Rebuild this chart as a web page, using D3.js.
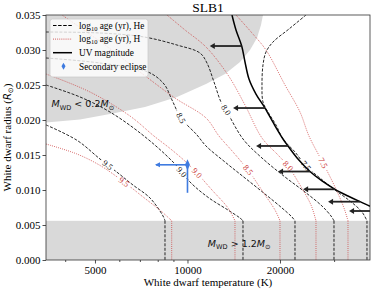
<!DOCTYPE html>
<html>
<head>
<meta charset="utf-8">
<script src="https://d3js.org/d3.v7.min.js"></script>
<style>
  body { margin: 0; background: #fff; }
  svg { display: block; font-family: "Liberation Serif", "Times New Roman", serif; }
</style>
</head>
<body>
<svg id="chart" width="374" height="290"></svg>
<script>
// ---- data (temperature in K, radius in R_sun) ----
const ages = ["9.5", "9.0", "8.5", "8.0", "7.5"];

// He-core cooling isochrones (log10 age)
const he95T = [3464, 4370, 5191, 5941, 6648, 7551, 8324, 8449];
const he95R = [0.0193, 0.0171, 0.01443, 0.01243, 0.01071, 0.00886, 0.00629, 0.0056];
const he90T = [3464, 4469, 5595, 7219, 9039, 10267, 11748, 13545, 14821, 15158];
const he90R = [0.025, 0.02329, 0.02114, 0.01771, 0.01386, 0.011, 0.00886, 0.00714, 0.006, 0.0056];
const he85T = [3464, 5191, 7439, 8386, 8904, 9525, 10738, 11487, 13245, 15387, 17874, 20303, 21882, 22380];
const he85R = [0.02886, 0.02814, 0.02686, 0.02514, 0.02286, 0.02029, 0.01786, 0.01629, 0.014, 0.01171, 0.00943, 0.00743, 0.00614, 0.0056];
const he80T = [3464, 5191, 7219, 9244, 10982, 11573, 12197, 12854, 13344, 15158, 17477, 20765, 24122, 27398, 29309, 29976];
const he80R = [0.03257, 0.03243, 0.03186, 0.03071, 0.02957, 0.02814, 0.02543, 0.02257, 0.02143, 0.01729, 0.01457, 0.01186, 0.00971, 0.00771, 0.00629, 0.0056];
const he75T = [24302, 21395, 18979, 18008, 17608, 17477, 17608, 18280, 19410, 20456, 22380, 24302, 26990, 30202, 33793, 36972, 38382];
const he75R = [0.035, 0.033, 0.03114, 0.02971, 0.02786, 0.025, 0.02257, 0.02114, 0.01929, 0.01729, 0.01543, 0.01343, 0.01171, 0.01, 0.00843, 0.00686, 0.0056];
const heLabelR = [0.01357, 0.01257, 0.02029, 0.02143, 0.01343];

// H-envelope cooling isochrones
const h95T = [3464, 4370, 5230, 6214, 7219, 8200, 8884];
const h95R = [0.01657, 0.01514, 0.01343, 0.01114, 0.0089, 0.007, 0.0056];
const h90T = [3464, 4817, 6500, 7781, 8904, 9963, 10658, 12015, 13545, 14275];
const h90R = [0.02657, 0.024, 0.02057, 0.01771, 0.01571, 0.01386, 0.01257, 0.01, 0.00743, 0.0056];
const h85T = [3905, 5390, 7006, 9107, 11487, 12662, 14063, 15736, 17608, 19265, 20000];
const h85R = [0.035, 0.03071, 0.02686, 0.02314, 0.02029, 0.01771, 0.01543, 0.01286, 0.00971, 0.00714, 0.0056];
const h80T = [8576, 9815, 11487, 13545, 15387, 17477, 19703, 21236, 23234, 25230, 26193];
const h80R = [0.035, 0.03286, 0.03043, 0.02643, 0.02214, 0.01743, 0.015, 0.01343, 0.01071, 0.00786, 0.0056];
const h75T = [14383, 16215, 18008, 20765, 23234, 24854, 27605, 30202, 32307, 33290];
const h75R = [0.035, 0.03243, 0.03, 0.025, 0.02114, 0.01771, 0.01386, 0.01043, 0.00743, 0.0056];
const hLabelR = [0.01114, 0.01243, 0.01286, 0.01343, 0.01386];

// UV magnitude limit curve and its upper-limit arrows
const uvT = [13958, 14383, 15011, 15387, 15854, 16708, 17874, 19121, 20456, 21236, 22888, 25041, 27398, 30202, 33290, 36421, 39551, 43926];
const uvR = [0.035, 0.03286, 0.03057, 0.02829, 0.02586, 0.02371, 0.02171, 0.01943, 0.01729, 0.01629, 0.01443, 0.01264, 0.01129, 0.0101, 0.00914, 0.00833, 0.00764, 0.00677];
const uvLimitT = [15011, 17874, 21236, 25041, 30202, 36421, 42628];
const uvLimitR = [0.03057, 0.02171, 0.01629, 0.01264, 0.0101, 0.00833, 0.007];
const arrowFactor = 1.27;

// excluded mass regions
const lowMassT = [3464, 4469, 5595, 7274, 9244, 11487, 13245, 14823, 15974, 16834, 17346, 17608];
const lowMassR = [0.01964, 0.02007, 0.02086, 0.02186, 0.02329, 0.02514, 0.02657, 0.02829, 0.03, 0.03171, 0.03357, 0.035];
const highMassR = 0.0056;

// secondary eclipse measurement (one-sided errors)
const eclipseT = [10000], eclipseR = [0.0136];
const eclipseTerr = [2100], eclipseRerr = [0.004];

const xTicks = [5000, 10000, 20000];
const xMinorTicks = [4000, 6000, 7000, 8000, 9000, 30000];
const yTicks = [0, 0.005, 0.01, 0.015, 0.02, 0.025, 0.03, 0.035];

// ---- layout ----
const pLeft = 46, pRight = 370, pTop = 15, pBottom = 260;
const heColor = "#111", hColor = "#cc3b3b", blue = "#3f7be0", grayFill = "#d9d9d9";

const svg = d3.select("#chart");
const defs = svg.append("defs");

const x = d3.scaleLog().domain([3464, 39260]).range([pLeft, pRight]);
const y = d3.scaleLinear().domain([0, 0.035]).range([pBottom, pTop]);

defs.append("clipPath").attr("id", "plotClip")
  .append("rect").attr("x", pLeft).attr("y", pTop)
  .attr("width", pRight - pLeft).attr("height", pBottom - pTop);

const plot = svg.append("g").attr("clip-path", "url(#plotClip)");

// gray excluded regions
const lowPts = lowMassT.map((t, i) => [t, lowMassR[i]]);
const tMin = x.domain()[0];
plot.append("path")
  .attr("d", d3.line().x(d => x(d[0])).y(d => y(d[1])).curve(d3.curveLinear)(
    [[tMin, 0.035]].concat(lowPts)))
  .attr("fill", grayFill);
plot.append("rect")
  .attr("x", pLeft).attr("y", y(highMassR))
  .attr("width", pRight - pLeft).attr("height", pBottom - y(highMassR))
  .attr("fill", grayFill);

// contours
const heT = [he95T, he90T, he85T, he80T, he75T], heR = [he95R, he90R, he85R, he80R, he75R];
const hT = [h95T, h90T, h85T, h80T, h75T], hR = [h95R, h90R, h85R, h80R, h75R];
const contours = [];
ages.forEach((a, i) => {
  contours.push({age: a, kind: "He", T: heT[i], R: heR[i], labelR: heLabelR[i]});
  contours.push({age: a, kind: "H", T: hT[i], R: hR[i], labelR: hLabelR[i]});
});

const smooth = d3.line().x(d => x(d[0])).y(d => y(d[1])).curve(d3.curveCatmullRom.alpha(0.5));

contours.forEach((c, i) => {
  const pts = c.T.map((t, j) => [t, c.R[j]]);
  const px = pts.map(p => [x(p[0]), y(p[1])]);
  const isHe = c.kind === "He";
  const color = isHe ? heColor : hColor;
  const dash = isHe ? "3,1.5" : "0.9,1.2";

  // label placement along the curve
  const ly = y(c.labelR);
  let lx = px[0][0], ang = 0;
  for (let j = 0; j < px.length - 1; j++) {
    if ((px[j][1] - ly) * (px[j + 1][1] - ly) <= 0) {
      const f = (ly - px[j][1]) / (px[j + 1][1] - px[j][1]);
      lx = px[j][0] + f * (px[j + 1][0] - px[j][0]);
      ang = Math.atan2(px[j + 1][1] - px[j][1], px[j + 1][0] - px[j][0]) * 180 / Math.PI;
      break;
    }
  }
  if (ang > 90) ang -= 180;
  if (ang < -90) ang += 180;

  const m = defs.append("mask").attr("id", "gap" + i)
    .attr("maskUnits", "userSpaceOnUse")
    .attr("x", 0).attr("y", 0).attr("width", 374).attr("height", 290);
  m.append("rect").attr("width", 374).attr("height", 290).attr("fill", "#fff");
  m.append("rect").attr("x", -8).attr("y", -5).attr("width", 16).attr("height", 10)
    .attr("fill", "#000")
    .attr("transform", `translate(${lx},${ly}) rotate(${ang})`);

  const g = plot.append("g").attr("mask", `url(#gap${i})`);
  g.append("path")
    .attr("d", smooth(pts))
    .attr("fill", "none").attr("stroke", color)
    .attr("stroke-width", isHe ? 0.9 : 0.8)
    .attr("stroke-dasharray", dash);
  // straight drop to zero radius inside the high-mass band
  const last = pts[pts.length - 1];
  g.append("path")
    .attr("d", d3.line().x(d => x(d[0])).y(d => y(d[1]))([last, [last[0], 0]]))
    .attr("fill", "none").attr("stroke", color)
    .attr("stroke-width", isHe ? 0.9 : 0.8)
    .attr("stroke-dasharray", dash);

  plot.append("text")
    .attr("transform", `translate(${lx},${ly}) rotate(${ang})`)
    .attr("text-anchor", "middle").attr("dy", "0.33em")
    .attr("font-size", 8.5)
    .attr("fill", color)
    .text(c.age);
});

// UV magnitude curve
const uvPts = uvT.map((t, i) => [t, uvR[i]]);
plot.append("path")
  .attr("d", smooth(uvPts))
  .attr("fill", "none").attr("stroke", "#000").attr("stroke-width", 1.5);

// upper-limit arrows
uvLimitT.forEach((t, i) => {
  const x0 = x(t), x1 = x(t / arrowFactor), yy = y(uvLimitR[i]);
  plot.append("line")
    .attr("x1", x0).attr("x2", x1 + 4).attr("y1", yy).attr("y2", yy)
    .attr("stroke", "#222").attr("stroke-width", 1.8);
  plot.append("path")
    .attr("d", `M${x1},${yy} L${x1 + 5},${yy - 3} L${x1 + 5},${yy + 3} Z`)
    .attr("fill", "#222");
});

// region annotations
function massLabel(tx, ty, rel, val) {
  const t = svg.append("text")
    .attr("x", x(tx)).attr("y", y(ty))
    .attr("font-family", "DejaVu Sans, sans-serif")
    .attr("font-size", 9.5).attr("fill", "#111");
  t.append("tspan").attr("font-style", "italic").text("M");
  t.append("tspan").attr("font-size", 6.6).attr("dy", 2.2).text("WD");
  t.append("tspan").attr("dy", -2.2).text(` ${rel} ${val}`);
  t.append("tspan").attr("font-style", "italic").text("M");
  t.append("tspan").attr("font-size", 6.6).attr("dy", 2.2).text("\u2299");
}
massLabel(3610, 0.0218, "<", "0.2");
massLabel(11650, 0.0019, ">", "1.2");

// secondary eclipse point with one-sided error bars
eclipseT.forEach((t, i) => {
  const px = x(t), py = y(eclipseR[i]);
  const xl = x(t - eclipseTerr[i]), ylow = y(eclipseR[i] - eclipseRerr[i]);
  plot.append("line").attr("x1", xl).attr("x2", px).attr("y1", py).attr("y2", py)
    .attr("stroke", blue).attr("stroke-width", 1.6);
  plot.append("line").attr("x1", px).attr("x2", px).attr("y1", py).attr("y2", ylow)
    .attr("stroke", blue).attr("stroke-width", 1.6);
  plot.append("path")
    .attr("d", `M${xl - 1},${py} L${xl + 4},${py - 2.5} L${xl + 4},${py + 2.5} Z`)
    .attr("fill", blue);
  plot.append("path")
    .attr("d", d3.symbol(d3.symbolDiamond, 34)())
    .attr("transform", `translate(${px},${py}) scale(0.8,1)`)
    .attr("fill", blue);
});

// ---- axes ----
svg.append("g").attr("transform", `translate(${pLeft},0)`)
  .call(d3.axisLeft(y).tickValues(yTicks).tickFormat(d3.format(".3f")).tickSize(3.5).tickPadding(2));
svg.append("g").attr("transform", `translate(0,${pBottom})`)
  .call(d3.axisBottom(x).tickValues(xTicks).tickFormat(d3.format("d")).tickSize(3.5).tickPadding(3));
svg.append("g").attr("transform", `translate(0,${pBottom})`)
  .call(d3.axisBottom(x).tickValues(xMinorTicks).tickFormat("").tickSize(2));
svg.selectAll(".domain").remove();
svg.selectAll(".tick line").attr("stroke", "#222").attr("stroke-width", 0.8);
svg.selectAll(".tick text")
  .attr("font-family", "Liberation Serif, serif").attr("font-size", 11).attr("fill", "#000");

svg.append("rect")
  .attr("x", pLeft).attr("y", pTop).attr("width", pRight - pLeft).attr("height", pBottom - pTop)
  .attr("fill", "none").attr("stroke", "#333").attr("stroke-width", 0.8);

svg.append("text")
  .attr("x", (pLeft + pRight) / 2).attr("y", 286)
  .attr("text-anchor", "middle").attr("font-size", 11)
  .text("White dwarf temperature (K)");

const yLabel = svg.append("text")
  .attr("transform", `translate(11,${(pTop + pBottom) / 2}) rotate(-90)`)
  .attr("text-anchor", "middle").attr("font-size", 11);
yLabel.append("tspan").text("White dwarf radius (");
yLabel.append("tspan").attr("font-family", "DejaVu Sans, sans-serif").attr("font-style", "italic")
  .attr("font-size", 10).text("R");
yLabel.append("tspan").attr("font-family", "DejaVu Sans, sans-serif").attr("font-size", 7).attr("dy", 2).text("\u2299");
yLabel.append("tspan").attr("dy", -2).text(")");

svg.append("text")
  .attr("x", (pLeft + pRight) / 2).attr("y", 12)
  .attr("text-anchor", "middle").attr("font-size", 13.5)
  .text("SLB1");

// ---- legend ----
const lg = svg.append("g").attr("transform", "translate(50,19)");
lg.append("rect").attr("width", 98).attr("height", 58).attr("rx", 2.5)
  .attr("fill", "#fff").attr("fill-opacity", 0.8)
  .attr("stroke", "#ccc").attr("stroke-width", 0.8);
const legendRows = [
  {kind: "He", label: ["log", "10", " age (yr), He"]},
  {kind: "H", label: ["log", "10", " age (yr), H"]},
  {kind: "UV", label: ["UV magnitude"]},
  {kind: "pt", label: ["Secondary eclipse"]}
];
legendRows.forEach((r, i) => {
  const cy = 6.5 + i * 13.6;
  if (r.kind === "pt") {
    lg.append("path").attr("d", d3.symbol(d3.symbolDiamond, 14)())
      .attr("transform", `translate(13.5,${cy})`).attr("fill", blue);
  } else {
    lg.append("line").attr("x1", 3).attr("x2", 22).attr("y1", cy).attr("y2", cy)
      .attr("stroke", r.kind === "H" ? hColor : "#000")
      .attr("stroke-width", r.kind === "UV" ? 1.5 : (r.kind === "He" ? 1.1 : 0.9))
      .attr("stroke-dasharray", r.kind === "He" ? "3.5,1.6" : (r.kind === "H" ? "0.9,1.2" : null));
  }
  const t = lg.append("text").attr("x", 29).attr("y", cy + 3.2).attr("font-size", 9.3);
  t.append("tspan").text(r.label[0]);
  if (r.label.length > 1) {
    t.append("tspan").attr("font-size", 6.5).attr("dy", 2).text(r.label[1]);
    t.append("tspan").attr("dy", -2).text(r.label[2]);
  }
});
</script>
</body>
</html>
